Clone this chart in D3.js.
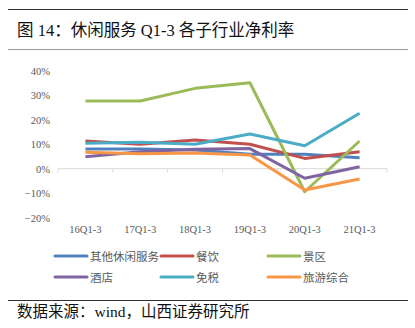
<!DOCTYPE html>
<meta charset="utf-8">
<style>
body { margin: 0; background: #fff; }
text { font-family: "Liberation Serif", "Noto Sans CJK SC", serif; }
</style>
<body>
<script src="https://d3js.org/d3.v7.min.js"></script>
<script>

// data
var periods = ["16Q1-3", "17Q1-3", "18Q1-3", "19Q1-3", "20Q1-3", "21Q1-3"];
var seriesNames = ["其他休闲服务", "餐饮", "景区", "酒店", "免税", "旅游综合"];
var seriesColors = ["#4f81bd", "#c0504d", "#9bbb59", "#8064a2", "#4bacc6", "#f79646"];
var otherLeisure = [8.0, 8.0, 7.6, 5.9, 5.9, 4.5];
var catering = [11.3, 10.0, 11.7, 10.0, 4.2, 6.9];
var scenic = [27.6, 27.6, 32.8, 35.1, -9.4, 11.3];
var hotel = [4.9, 6.9, 7.9, 8.2, -3.9, 0.8];
var dutyFree = [10.4, 10.8, 10.0, 14.2, 9.4, 22.6];
var tourism = [6.7, 6.1, 6.4, 5.6, -8.7, -4.2];
var yTicks = [-20, -10, 0, 10, 20, 30, 40];

var allSeries = [otherLeisure, catering, scenic, hotel, dutyFree, tourism];

var svg = d3.select("body").append("svg")
  .attr("width", 415)
  .attr("height", 328);

// header rules + title
svg.append("line").attr("x1", 8).attr("x2", 408).attr("y1", 9.5).attr("y2", 9.5)
  .attr("stroke", "#333").attr("stroke-width", 1.2);
svg.append("text").attr("x", 17).attr("y", 36)
  .attr("font-size", 16.5).attr("fill", "#111")
  .text("图 14：休闲服务 Q1-3 各子行业净利率");
svg.append("line").attr("x1", 8).attr("x2", 408).attr("y1", 49.5).attr("y2", 49.5)
  .attr("stroke", "#999").attr("stroke-width", 1.2);

// scales
var x = d3.scalePoint().domain(periods).range([58, 387]).padding(0.5);
var y = d3.scaleLinear().domain([-20, 40]).range([217.7, 70.7]);

// y labels
svg.selectAll(".ylab").data(yTicks).enter().append("text")
  .attr("x", 50).attr("y", function(d) { return y(d) + 4; })
  .attr("text-anchor", "end")
  .attr("font-size", 10.5).attr("fill", "#595959")
  .text(function(d) { return (d < 0 ? "−" + Math.abs(d) : d) + "%"; });

// x axis at 0
svg.append("line")
  .attr("x1", 58).attr("x2", 387).attr("y1", y(0)).attr("y2", y(0))
  .attr("stroke", "#d9d9d9");
var step = x.step();
svg.selectAll(".xtick").data(d3.range(periods.length + 1)).enter().append("line")
  .attr("x1", function(i) { return 58 + i * step; })
  .attr("x2", function(i) { return 58 + i * step; })
  .attr("y1", y(0)).attr("y2", y(0) + 4)
  .attr("stroke", "#d9d9d9");

// x labels
svg.selectAll(".xlab").data(periods).enter().append("text")
  .attr("x", function(d) { return x(d); }).attr("y", 233)
  .attr("text-anchor", "middle")
  .attr("font-size", 10.5).attr("fill", "#595959")
  .text(function(d) { return d; });

// lines
var line = d3.line()
  .x(function(d, i) { return x(periods[i]); })
  .y(function(d) { return y(d); });

svg.selectAll(".series").data(allSeries).enter().append("path")
  .attr("fill", "none")
  .attr("stroke", function(d, i) { return seriesColors[i]; })
  .attr("stroke-width", 3)
  .attr("stroke-linejoin", "round")
  .attr("d", line);

// legend
var legX = [55, 161, 268];
var legY = [256, 277];
var leg = svg.selectAll(".leg").data(seriesNames).enter().append("g")
  .attr("transform", function(d, i) {
    return "translate(" + legX[i % 3] + "," + legY[Math.floor(i / 3)] + ")";
  });
leg.append("line").attr("x1", 0).attr("x2", 32)
  .attr("stroke", function(d, i) { return seriesColors[i]; })
  .attr("stroke-width", 3).attr("stroke-linecap", "round");
leg.append("text").attr("x", 35).attr("y", 4.5)
  .attr("font-size", 11.5).attr("fill", "#595959")
  .text(function(d) { return d; });

// footer
svg.append("line").attr("x1", 8).attr("x2", 408).attr("y1", 300.5).attr("y2", 300.5)
  .attr("stroke", "#333").attr("stroke-width", 1.2);
svg.append("text").attr("x", 17).attr("y", 317)
  .attr("font-size", 15.5).attr("fill", "#111")
  .text("数据来源：wind，山西证券研究所");

</script>
</body>
